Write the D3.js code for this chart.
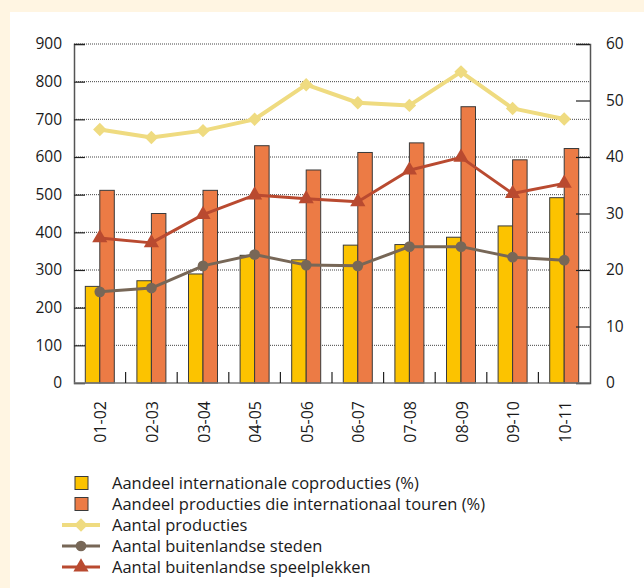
<!DOCTYPE html>
<html>
<head>
<meta charset="utf-8">
<script src="https://cdn.jsdelivr.net/npm/d3@7"></script>
<style>
  body { margin: 0; background: #fff5e2; }
  svg { display: block; font-family: "Open Sans", "Noto Sans", sans-serif; }
</style>
</head>
<body>
<svg id="chart" width="644" height="588"></svg>
<script>
// seasons on the x axis
const periods = ["01-02", "02-03", "03-04", "04-05", "05-06", "06-07", "07-08", "08-09", "09-10", "10-11"];

// bar series, percentages (right axis)
const coproducties = [17.1, 18.1, 19.3, 22.6, 21.8, 24.4, 24.5, 25.8, 27.8, 32.8];
const touren = [34.1, 30.0, 34.1, 42.0, 37.7, 40.8, 42.5, 48.9, 39.5, 41.5];

// line series, counts (left axis)
const producties = [673, 652, 670, 700, 792, 744, 737, 826, 729, 701];
const steden = [242, 252, 311, 341, 313, 311, 362, 362, 334, 326];
const speelplekken = [385, 372, 447, 499, 489, 481, 565, 599, 503, 530];

const leftTicks = [0, 100, 200, 300, 400, 500, 600, 700, 800, 900];
const rightTicks = [0, 10, 20, 30, 40, 50, 60];

const legendLabels = [
    "Aandeel internationale coproducties (%)",
    "Aandeel producties die internationaal touren (%)",
    "Aantal producties",
    "Aantal buitenlandse steden",
    "Aantal buitenlandse speelplekken"
];

const svg = d3.select("#chart");

// white panel on the cream background
svg.append("rect")
    .attr("x", 10).attr("y", 12)
    .attr("width", 634).attr("height", 576)
    .attr("fill", "#ffffff");

const x = d3.scaleBand().domain(periods).range([74, 590]);
const yLeft = d3.scaleLinear().domain([0, 900]).range([383, 44]);
const yRight = d3.scaleLinear().domain([0, 60]).range([383, 44]);
const center = p => x(p) + x.bandwidth() / 2;

// dotted gridlines
svg.append("g")
    .selectAll("line")
    .data(leftTicks.slice(1))
    .join("line")
    .attr("x1", 74).attr("x2", 590)
    .attr("y1", d => yLeft(d)).attr("y2", d => yLeft(d))
    .attr("stroke", "#444")
    .attr("stroke-width", 1)
    .attr("stroke-dasharray", "1,1");

// bars
const barW = 14.5;
const bars = svg.append("g");
bars.selectAll(".co")
    .data(periods)
    .join("rect")
    .attr("class", "co")
    .attr("x", p => center(p) - barW)
    .attr("width", barW)
    .attr("y", (p, i) => yRight(coproducties[i]))
    .attr("height", (p, i) => yRight(0) - yRight(coproducties[i]))
    .attr("fill", "#fcc300")
    .attr("stroke", "#3a3a3a")
    .attr("stroke-width", 1);
bars.selectAll(".tour")
    .data(periods)
    .join("rect")
    .attr("class", "tour")
    .attr("x", p => center(p))
    .attr("width", barW)
    .attr("y", (p, i) => yRight(touren[i]))
    .attr("height", (p, i) => yRight(0) - yRight(touren[i]))
    .attr("fill", "#ec7b45")
    .attr("stroke", "#3a3a3a")
    .attr("stroke-width", 1);

// axes
const leftAxis = svg.append("g")
    .attr("transform", "translate(74,0)")
    .call(d3.axisLeft(yLeft).tickValues(leftTicks).tickSize(-11).tickPadding(12));
const rightAxis = svg.append("g")
    .attr("transform", "translate(590,0)")
    .call(d3.axisRight(yRight).tickValues(rightTicks).tickSize(-14).tickPadding(16));
[leftAxis, rightAxis].forEach(a => {
    a.select(".domain").attr("stroke", "#555").attr("stroke-width", 1.5);
    a.selectAll(".tick line").attr("stroke", "#222").attr("stroke-width", 1.2);
    a.selectAll("text").attr("font-size", 15.5).attr("fill", "#1a1a1a")
        .attr("font-family", "'Open Sans', 'Noto Sans', sans-serif");
});

// bottom axis line and category separators
svg.append("line")
    .attr("x1", 74).attr("x2", 590)
    .attr("y1", yLeft(0)).attr("y2", yLeft(0))
    .attr("stroke", "#777").attr("stroke-width", 1.5);
svg.append("g")
    .selectAll("line")
    .data(periods.slice(1))
    .join("line")
    .attr("x1", p => x(p)).attr("x2", p => x(p))
    .attr("y1", yLeft(0)).attr("y2", yLeft(0) - 11)
    .attr("stroke", "#222").attr("stroke-width", 1.2);

// rotated category labels
svg.append("g")
    .selectAll("text")
    .data(periods)
    .join("text")
    .attr("transform", p => "translate(" + (center(p) + 1) + ",401) rotate(-90)")
    .attr("text-anchor", "end")
    .attr("dy", "0.35em")
    .attr("font-size", 16)
    .attr("fill", "#1a1a1a")
    .text(p => p);

// line series
const lineSeries = [
    { values: producties, color: "#efdb80", width: 4, symbol: d3.symbolDiamond2, size: 115 },
    { values: steden, color: "#776757", width: 3, symbol: d3.symbolCircle, size: 90 },
    { values: speelplekken, color: "#b94a30", width: 3, symbol: d3.symbolTriangle, size: 100 }
];

lineSeries.forEach(s => {
    const line = d3.line()
        .x((d, i) => center(periods[i]))
        .y(d => yLeft(d));
    svg.append("path")
        .datum(s.values)
        .attr("d", line)
        .attr("fill", "none")
        .attr("stroke", s.color)
        .attr("stroke-width", s.width)
        .attr("stroke-linejoin", "round");
    svg.append("g")
        .selectAll("path")
        .data(s.values)
        .join("path")
        .attr("d", d3.symbol(s.symbol, s.size))
        .attr("transform", (d, i) => "translate(" + center(periods[i]) + "," + yLeft(d) + ")")
        .attr("fill", s.color);
});

// legend
const legend = svg.append("g").attr("transform", "translate(0,483)");
const rowH = 21;
const swatchColors = ["#fcc300", "#ec7b45"];
legend.selectAll(".sw")
    .data(swatchColors)
    .join("rect")
    .attr("class", "sw")
    .attr("x", 75).attr("y", (d, i) => i * rowH - 6.5)
    .attr("width", 13).attr("height", 13)
    .attr("fill", d => d)
    .attr("stroke", "#3a3a3a").attr("stroke-width", 1);
lineSeries.forEach((s, j) => {
    const yy = (j + 2) * rowH;
    legend.append("line")
        .attr("x1", 62).attr("x2", 100)
        .attr("y1", yy).attr("y2", yy)
        .attr("stroke", s.color).attr("stroke-width", s.width);
    legend.append("path")
        .attr("d", d3.symbol(s.symbol, s.size))
        .attr("transform", "translate(81," + yy + ")")
        .attr("fill", s.color);
});
legend.selectAll("text")
    .data(legendLabels)
    .join("text")
    .attr("x", 112)
    .attr("y", (d, i) => i * rowH)
    .attr("dy", "0.35em")
    .attr("font-size", 16.5)
    .attr("fill", "#1a1a1a")
    .text(d => d);
</script>
</body>
</html>
